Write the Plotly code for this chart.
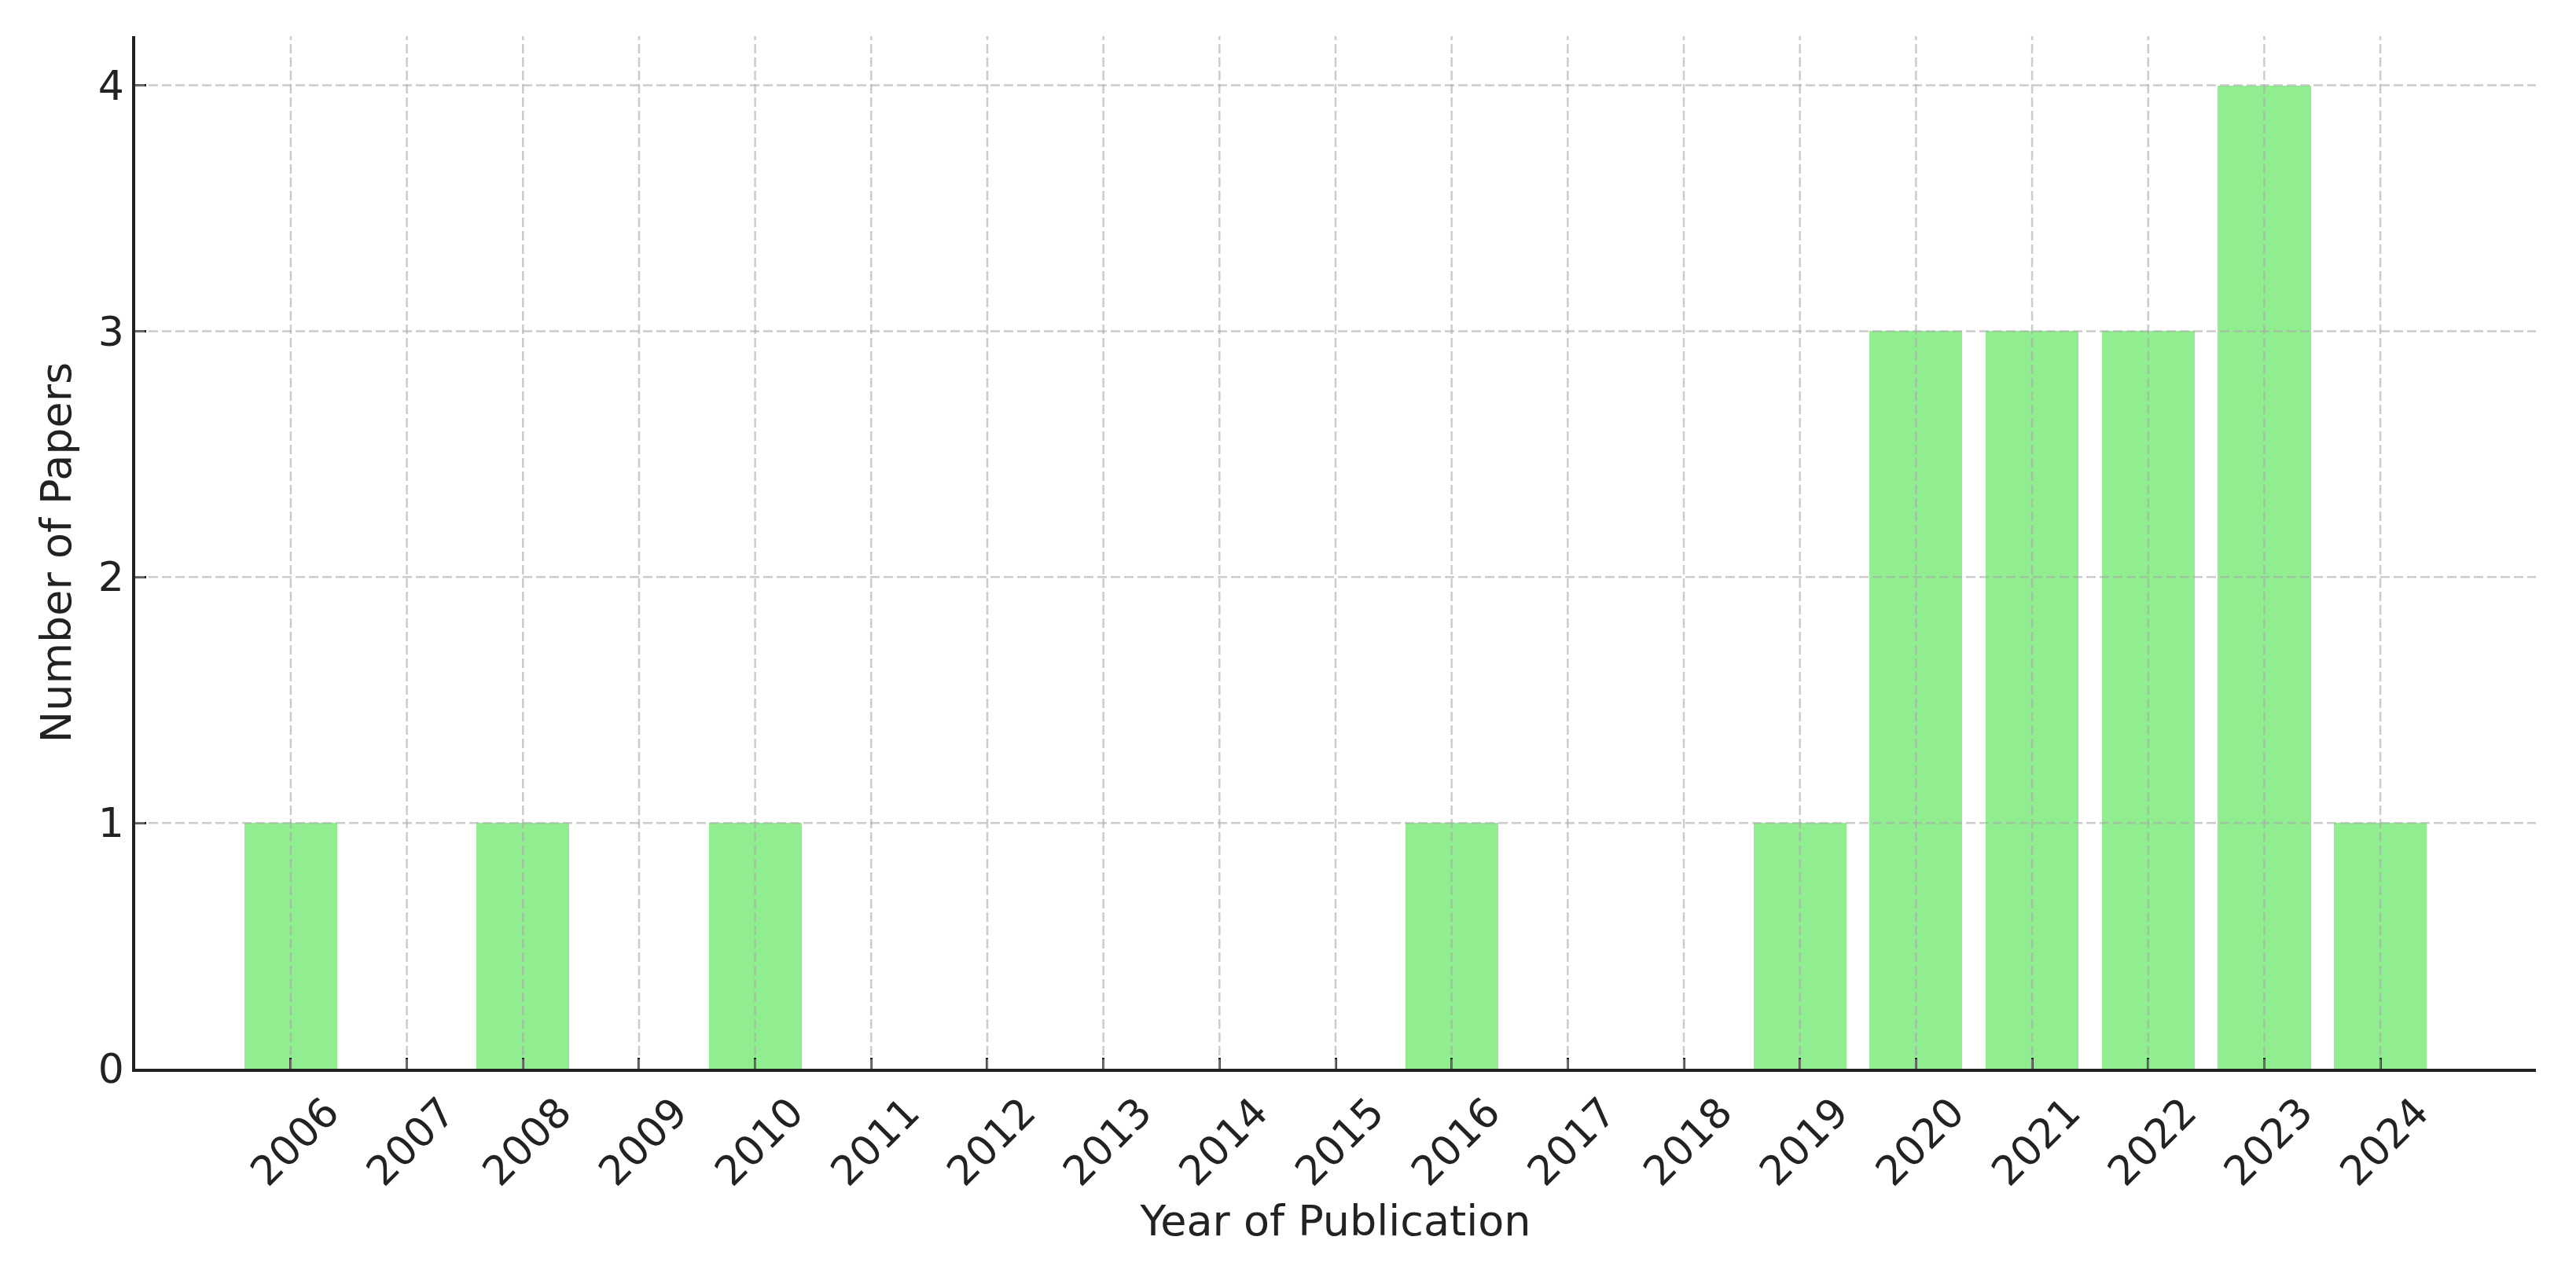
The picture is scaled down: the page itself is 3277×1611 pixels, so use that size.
import plotly.graph_objects as go

years = [2006, 2007, 2008, 2009, 2010, 2011, 2012, 2013, 2014, 2015,
         2016, 2017, 2018, 2019, 2020, 2021, 2022, 2023, 2024]
papers = [1, 0, 1, 0, 1, 0, 0, 0, 0, 0, 1, 0, 0, 1, 3, 3, 3, 4, 1]
y_ticks = [0, 1, 2, 3, 4]

BAR_COLOR = "#90EE90"
TEXT = "#222222"
GRID = "rgba(170,170,170,0.6)"
FONT = "DejaVu Sans"

fig = go.Figure()
fig.add_trace(go.Bar(x=years, y=papers, width=0.8, marker=dict(color=BAR_COLOR, line=dict(width=0)),
                     showlegend=False))

pad = 0.05 * ((max(years) + 0.4) - (min(years) - 0.4))
xr = [min(years) - 0.4 - pad, max(years) + 0.4 + pad]
yr = [0, max(papers) * 1.05]

shapes = []
for yv in years:
    shapes.append(dict(type="line", xref="x", yref="paper", x0=yv, x1=yv, y0=0, y1=1,
                       line=dict(color=GRID, width=2.5, dash="12px,5px"), layer="above"))
for tv in y_ticks:
    if tv == 0:
        continue
    shapes.append(dict(type="line", xref="paper", yref="y", x0=0, x1=1, y0=tv, y1=tv,
                       line=dict(color=GRID, width=2.5, dash="12px,5px"), layer="above"))

fig.update_layout(
    width=3277, height=1611,
    margin=dict(l=172, r=51, t=46, b=251),
    plot_bgcolor="white", paper_bgcolor="white",
    font=dict(family=FONT, size=52, color=TEXT),
    shapes=shapes,
    bargap=0,
)
fig.update_xaxes(
    range=xr, tickmode="array", tickvals=years, ticktext=[str(y) for y in years],
    tickangle=-45, ticks="inside", ticklen=14, tickwidth=3, tickcolor=TEXT,
    showline=True, linecolor=TEXT, linewidth=3.5, showgrid=False, zeroline=False,
    tickfont=dict(family=FONT, size=52, color=TEXT),
    ticklabelshift=46, ticklabelstandoff=0,
    title=dict(text="Year of Publication", font=dict(family=FONT, size=54, color=TEXT), standoff=16),
    layer="above traces",
)
fig.update_yaxes(
    range=yr, tickmode="array", tickvals=y_ticks,
    ticks="inside", ticklen=14, tickwidth=3, tickcolor=TEXT,
    showline=True, linecolor=TEXT, linewidth=3.5, showgrid=False, zeroline=False,
    tickfont=dict(family=FONT, size=52, color=TEXT),
    ticklabelstandoff=0,
    title=dict(text="Number of Papers", font=dict(family=FONT, size=54, color=TEXT), standoff=18),
    layer="above traces",
)

fig.write_html("out.html", config={"displayModeBar": False},
               post_script="document.body.style.margin='0';")
